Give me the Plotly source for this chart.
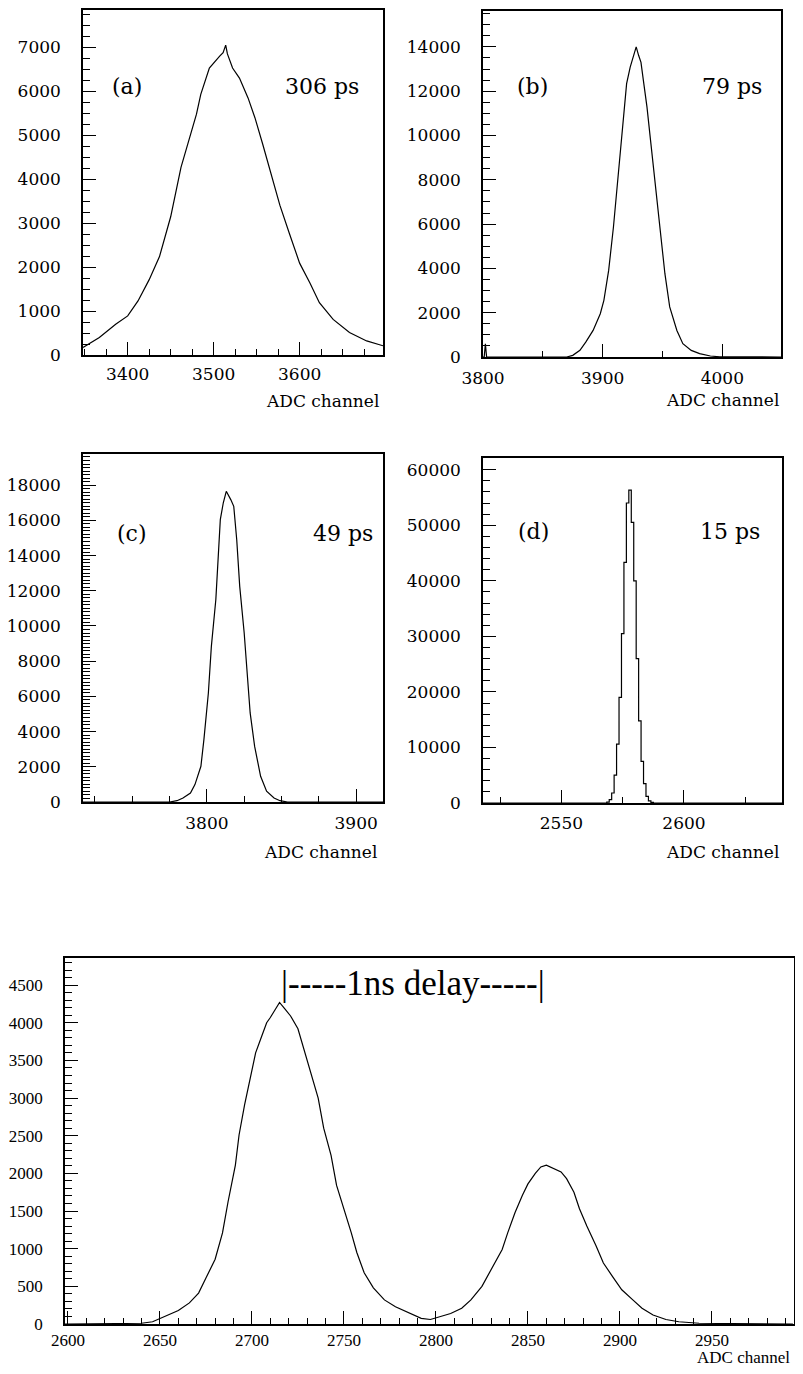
import plotly.graph_objects as go

# ---------------- data ----------------
a_ch = [3348, 3367, 3386, 3400, 3412, 3425, 3437, 3450, 3462, 3472, 3480, 3485, 3495,
        3507, 3511, 3514, 3516, 3522, 3530, 3540, 3548, 3557, 3567, 3577, 3588, 3600,
        3612, 3623, 3639, 3658, 3678, 3697]
a_cnt = [173, 400, 700, 890, 1230, 1715, 2240, 3145, 4270, 4950, 5480, 5930, 6530,
         6800, 6880, 7050, 6850, 6530, 6300, 5850, 5400, 4800, 4085, 3410, 2770, 2090,
         1640, 1190, 810, 510, 320, 210]

b_ch = [3800, 3801, 3802, 3803, 3870, 3875, 3881, 3886, 3892, 3898, 3901, 3905, 3909,
        3913, 3917, 3920, 3923, 3926, 3928, 3930, 3932, 3934, 3937, 3940, 3944, 3948,
        3952, 3956, 3962, 3967, 3974, 3981, 3990, 3998, 4049]
b_cnt = [0, 0, 600, 0, 0, 75, 300, 680, 1200, 1955, 2560, 3910, 5870,
         8120, 10380, 12340, 13090, 13620, 14000, 13620, 13300, 12490, 11290, 9780, 7670, 5570,
         3760, 2260, 1200, 600, 300, 150, 45, 10, 0]

c_ch = [3717, 3775, 3780, 3784, 3789, 3792, 3796, 3798, 3801, 3803, 3806, 3808, 3809,
        3811, 3813, 3816, 3818, 3820, 3822, 3825, 3827, 3829, 3832, 3836, 3840, 3845,
        3849, 3854, 3918]
c_cnt = [0, 0, 75, 230, 510, 990, 2030, 3540, 6190, 8840, 11500, 14150, 16040,
         17000, 17650, 17180, 16800, 14900, 12250, 9600, 7330, 5060, 3160, 1460, 610, 230,
         75, 0, 0]

d_ch = [2518, 2568, 2569, 2570, 2571, 2572, 2573, 2574, 2575, 2576, 2577, 2578, 2579,
        2580, 2581, 2582, 2583, 2584, 2585, 2586, 2587, 2588, 2640]
d_cnt = [0, 0, 150, 600, 1800, 5000, 10600, 19000, 30500, 43300, 54000, 56300, 50500,
         40000, 26000, 14800, 7500, 3500, 1200, 400, 100, 0, 0]

e_ch = [2598, 2630, 2640, 2646, 2653, 2660, 2666, 2671, 2675, 2680, 2684, 2687, 2691,
        2693, 2696, 2699, 2702, 2705, 2708, 2710, 2713, 2715, 2718, 2721, 2725, 2728,
        2732, 2736, 2739, 2743, 2746, 2750, 2754, 2757, 2761, 2766, 2772, 2778, 2784,
        2792, 2797, 2803, 2808, 2814, 2819, 2825, 2830, 2836, 2839, 2843, 2847, 2850,
        2854, 2857, 2860, 2864, 2868, 2871, 2875, 2878, 2882, 2887, 2891, 2896, 2901,
        2907, 2912, 2918, 2925, 2932, 2943, 2994]
e_cnt = [0, 0, 10, 30, 100, 180, 280, 410, 610, 860, 1210, 1620, 2110,
         2510, 2910, 3270, 3600, 3800, 4000, 4070, 4180, 4270, 4180, 4090, 3920, 3670,
         3360, 3000, 2600, 2240, 1840, 1530, 1210, 950, 680, 480, 320, 230, 165,
         75, 60, 100, 140, 210, 320, 500, 720, 990, 1210, 1480, 1710, 1860,
         2000, 2085, 2110, 2060, 2020, 1930, 1750, 1530, 1300, 1040, 810, 630, 455,
         320, 210, 120, 60, 30, 10, 0]

panel_tags = ["(a)", "(b)", "(c)", "(d)"]
panel_res = ["306 ps", "79 ps", "49 ps", "15 ps"]
x_title = "ADC channel"
delay_text = "|-----1ns delay-----|"

# ---------------- layout helpers ----------------
PAGE_OFF = 8          # default body margin of the html page
W, H = 803 - 2 * PAGE_OFF, 1374 - 2 * PAGE_OFF


def px(x):
    return (x - PAGE_OFF) / W


def py(y):
    return 1 - (y - PAGE_OFF) / H


SERIF_W = "DejaVu Serif"
SERIF_T = "Liberation Serif"

panels = [
    dict(x=(83, 383), y=(10, 355), xr=[3348, 3697], yr=[0, 7850], xd=100, xt0=3400, xm=25,
         yd=1000, ym=250, ch=a_ch, cnt=a_cnt, shape="linear", font=SERIF_W, fs=17, so=3),
    dict(x=(483, 781), y=(11, 357), xr=[3800, 4049], yr=[0, 15620], xd=100, xt0=3800, xm=50,
         yd=2000, ym=500, ch=b_ch, cnt=b_cnt, shape="linear", font=SERIF_W, fs=17, so=5),
    dict(x=(83, 383), y=(454, 802), xr=[3717, 3918], yr=[0, 19770], xd=100, xt0=3800, xm=25,
         yd=2000, ym=200, ch=c_ch, cnt=c_cnt, shape="linear", font=SERIF_W, fs=17, so=5),
    dict(x=(483, 782), y=(458, 803), xr=[2518, 2640], yr=[0, 62100], xd=50, xt0=2550, xm=25,
         yd=10000, ym=2000, ch=d_ch, cnt=d_cnt, shape="hvh", font=SERIF_W, fs=17, so=4),
    dict(x=(65, 794), y=(958, 1324), xr=[2598.4, 2994.6], yr=[0, 4860], xd=50, xt0=2600, xm=10,
         yd=500, ym=100, ch=e_ch, cnt=e_cnt, shape="linear", font=SERIF_T, fs=17, so=0),
]

fig = go.Figure()
layout = dict(
    width=W, height=H, margin=dict(l=0, r=0, t=0, b=0, autoexpand=False),
    paper_bgcolor="white", plot_bgcolor="white", showlegend=False,
)

for i, p in enumerate(panels, start=1):
    sfx = "" if i == 1 else str(i)
    fig.add_trace(go.Scatter(
        x=p["ch"], y=p["cnt"], mode="lines",
        line=dict(color="black", width=1.2, shape=p["shape"]),
        xaxis="x" + sfx, yaxis="y" + sfx, hoverinfo="skip",
    ))
    common = dict(showline=True, linecolor="black", linewidth=1.5, mirror=True,
                  showgrid=False, zeroline=False, ticks="inside", tickcolor="black",
                  tickwidth=1.3, ticklen=13, automargin=False, tickformat="d",
                  tickfont=dict(family=p["font"], size=p["fs"], color="black"))
    layout["xaxis" + sfx] = dict(
        common, domain=[px(p["x"][0]), px(p["x"][1])], range=p["xr"], anchor="y" + sfx,
        tickmode="linear", tick0=p["xt0"], dtick=p["xd"], ticklabelstandoff=p["so"],
        minor=dict(ticks="inside", dtick=p["xm"], tick0=p["xt0"], ticklen=6,
                   tickcolor="black", tickwidth=1),
    )
    layout["yaxis" + sfx] = dict(
        common, domain=[py(p["y"][1]), py(p["y"][0])], range=p["yr"], anchor="x" + sfx,
        tickmode="linear", tick0=0, dtick=p["yd"], ticklabelstandoff=17,
        minor=dict(ticks="inside", dtick=p["ym"], tick0=0, ticklen=7,
                   tickcolor="black", tickwidth=1),
    )

annotations = []
tag_pos = [(127, 86), (532, 86), (132, 534), (533, 531)]
res_pos = [(322, 86), (732, 86), (343, 534), (730, 531)]
for t, (x, y) in zip(panel_tags, tag_pos):
    annotations.append(dict(text=t, x=px(x), y=py(y), xref="paper", yref="paper",
                            xanchor="center", yanchor="middle", showarrow=False,
                            font=dict(family=SERIF_W, size=22, color="black")))
for t, (x, y) in zip(panel_res, res_pos):
    annotations.append(dict(text=t, x=px(x), y=py(y), xref="paper", yref="paper",
                            xanchor="center", yanchor="middle", showarrow=False,
                            font=dict(family=SERIF_W, size=22, color="black")))

for (xr, y) in [(381, 401), (781, 400), (379, 852), (781, 852)]:
    annotations.append(dict(text=x_title, x=px(xr), y=py(y), xref="paper", yref="paper",
                            xanchor="right", yanchor="middle", showarrow=False,
                            font=dict(family=SERIF_W, size=17, color="black")))
annotations.append(dict(text=x_title, x=px(792), y=py(1357), xref="paper", yref="paper",
                        xanchor="right", yanchor="middle", showarrow=False,
                        font=dict(family=SERIF_T, size=17, color="black")))
annotations.append(dict(text=delay_text, x=px(279), y=py(983), xref="paper", yref="paper",
                        xanchor="left", yanchor="middle", showarrow=False,
                        font=dict(family=SERIF_T, size=35, color="black")))

layout["annotations"] = annotations
fig.update_layout(**layout)
fig.write_html("out.html")
